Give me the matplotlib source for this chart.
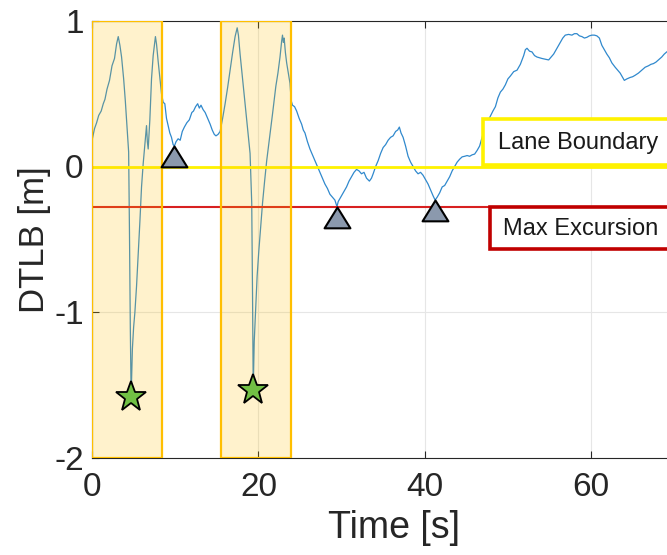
import numpy as np
import matplotlib.pyplot as plt
from matplotlib.patches import Rectangle
from matplotlib.path import Path

plt.rcParams['font.family'] = ['Liberation Sans', 'DejaVu Sans']
plt.rcParams['axes.unicode_minus'] = False

# Distance to lane boundary over time
time_s = [
    0.0, 0.3, 0.55, 0.8, 1.1, 1.35, 1.55, 1.8, 2.1, 2.4, 2.7, 2.95, 3.15, 3.35,
    3.55, 3.8, 4.0, 4.2, 4.4, 4.5, 4.6, 4.7, 4.85, 5.0, 5.15, 5.35, 5.55, 5.75,
    5.95, 6.15, 6.3, 6.45, 6.55, 6.65, 6.75, 6.95, 7.15, 7.35, 7.5, 7.62, 7.75,
    7.95, 8.15, 8.35, 8.55, 8.75, 8.95, 9.15, 9.35, 9.55, 9.75, 9.9,
    10.1, 10.35, 10.6, 10.85, 11.1, 11.4, 11.7, 12.0, 12.2, 12.45, 12.7, 12.9,
    13.1, 13.35, 13.6, 13.9, 14.2, 14.45, 14.7, 14.9, 15.15, 15.4,
    15.7, 16.0, 16.3, 16.6, 16.9, 17.2, 17.45, 17.6, 17.8, 18.1, 18.4, 18.7,
    19.0, 19.2, 19.3, 19.38, 19.5, 19.65, 19.85, 20.05, 20.3, 20.5, 20.75,
    21.0, 21.35, 21.7, 22.1, 22.35, 22.6, 22.8, 22.9, 23.0, 23.1, 23.25, 23.4,
    23.6, 23.8, 23.95, 24.1, 24.35, 24.6,
    24.9, 25.2, 25.4, 25.6, 25.9, 26.2, 26.5, 26.8, 27.1, 27.4, 27.7, 28.0,
    28.3, 28.6, 28.9, 29.2, 29.45, 29.6, 29.8, 30.0, 30.3, 30.6, 30.9, 31.2,
    31.5, 31.8, 32.1, 32.4, 32.7, 33.0, 33.35, 33.6, 33.8, 34.1, 34.4, 34.7,
    35.0, 35.3, 35.6, 35.9, 36.2, 36.5, 36.75, 36.95, 37.15, 37.4, 37.7, 38.0,
    38.3, 38.6, 38.9, 39.2, 39.5, 39.8, 40.1, 40.4, 40.7, 41.0, 41.25, 41.5,
    41.8, 42.1, 42.4, 42.7, 43.0, 43.3, 43.6, 43.9, 44.2, 44.5, 44.8, 45.1,
    45.4, 45.7, 46.0, 46.3, 46.6, 46.9, 47.2, 47.5, 47.85, 48.2, 48.5, 48.8,
    49.1, 49.4, 49.7, 50.0, 50.3, 50.7, 51.1, 51.5, 51.9, 52.1, 52.3, 52.6,
    52.9, 53.2, 53.5, 53.8, 54.1, 54.5, 54.9, 55.2, 55.5, 55.9, 56.3, 56.6,
    56.9, 57.3, 57.7, 58.0, 58.3, 58.6, 58.9, 59.2, 59.5, 59.8, 60.1, 60.4,
    60.7, 61.0, 61.3, 61.6, 61.9, 62.2, 62.5, 62.9, 63.2, 63.5, 63.8, 64.0,
    64.3, 64.7, 65.0, 65.3, 65.7, 66.1, 66.5, 66.9, 67.2, 67.5, 67.8, 68.1,
    68.5, 68.8, 69.1, 69.5,
]
dtlb_m = [
    0.18, 0.26, 0.30, 0.35, 0.38, 0.43, 0.46, 0.53, 0.59, 0.69, 0.74, 0.84, 0.89, 0.83,
    0.75, 0.60, 0.45, 0.28, 0.10, -0.45, -1.10, -1.58, -1.25, -1.10, -1.00, -0.82, -0.60, -0.38,
    -0.14, 0.02, 0.12, 0.22, 0.28, 0.17, 0.12, 0.32, 0.60, 0.76, 0.83, 0.89, 0.84,
    0.72, 0.61, 0.50, 0.44, 0.43, 0.33, 0.28, 0.23, 0.20, 0.15, 0.14,
    0.17, 0.19, 0.18, 0.24, 0.27, 0.30, 0.32, 0.37, 0.38, 0.41, 0.43, 0.40,
    0.42, 0.39, 0.37, 0.33, 0.29, 0.25, 0.22, 0.21, 0.22, 0.24,
    0.33, 0.43, 0.54, 0.66, 0.78, 0.89, 0.95, 0.90, 0.77, 0.60, 0.43, 0.26,
    0.09, -0.25, -0.90, -1.53, -1.20, -1.00, -0.75, -0.58, -0.40, -0.25, -0.10,
    0.04, 0.20, 0.36, 0.55, 0.64, 0.75, 0.86, 0.90, 0.85, 0.88, 0.78, 0.71,
    0.64, 0.57, 0.45, 0.42, 0.41, 0.38,
    0.33, 0.29, 0.25, 0.23, 0.17, 0.12, 0.08, 0.04, 0.00, -0.04, -0.08, -0.12,
    -0.15, -0.19, -0.21, -0.23, -0.275, -0.24, -0.22, -0.20, -0.17, -0.14, -0.10, -0.07,
    -0.04, -0.02, -0.03, -0.05, -0.04, -0.08, -0.10, -0.08, -0.05, 0.00, 0.04, 0.09,
    0.13, 0.15, 0.18, 0.20, 0.21, 0.24, 0.25, 0.27, 0.23, 0.20, 0.14, 0.07,
    0.03, 0.00, -0.03, -0.05, -0.04, -0.06, -0.09, -0.12, -0.16, -0.20, -0.23, -0.21,
    -0.18, -0.14, -0.13, -0.10, -0.07, -0.03, 0.00, 0.03, 0.05, 0.066, 0.07, 0.075,
    0.07, 0.08, 0.085, 0.11, 0.14, 0.20, 0.26, 0.30, 0.34, 0.38, 0.41, 0.47,
    0.51, 0.53, 0.56, 0.60, 0.62, 0.65, 0.66, 0.70, 0.76, 0.80, 0.81, 0.79,
    0.785, 0.76, 0.75, 0.745, 0.74, 0.735, 0.73, 0.75, 0.77, 0.81, 0.85, 0.88,
    0.90, 0.905, 0.90, 0.91, 0.91, 0.895, 0.89, 0.88, 0.885, 0.895, 0.90, 0.90,
    0.895, 0.88, 0.83, 0.80, 0.77, 0.745, 0.71, 0.68, 0.66, 0.64, 0.61, 0.59,
    0.60, 0.61, 0.615, 0.625, 0.64, 0.66, 0.68, 0.69, 0.70, 0.705, 0.715, 0.73,
    0.75, 0.77, 0.785, 0.80,
]

# flagged intervals (start, end) in seconds
windows = [(0.0, 8.45), (15.5, 23.9)]
# peak excursions inside the flagged intervals
star_t = [4.7, 19.38]
star_v = [-1.58, -1.53]
# local minima outside the flagged intervals
tri_t = [9.9, 29.45, 41.25]
tri_v = [0.14, -0.275, -0.23]

lane_boundary = 0.0
max_excursion = min(tri_v)

fig = plt.figure(figsize=(6.67, 5.55), dpi=100)
ax = fig.add_axes([0.138, 0.174, 0.904, 0.789])

ax.plot(time_s, dtlb_m, color='#3089cd', lw=0.9, zorder=2)

for t0, t1 in windows:
    ax.add_patch(Rectangle((t0, -2), t1 - t0, 3, facecolor=(1, 0.75, 0, 0.2),
                           edgecolor=(1, 0.75, 0, 1), lw=1.6, zorder=3))

ax.axhline(lane_boundary, color='#FFF200', lw=2, zorder=2.5)
ax.axhline(max_excursion, color='#D82020', lw=1.5, zorder=2.5)

# triangle marker with its apex on the data point
apex_up = Path([(0, 0), (-0.62, -1), (0.62, -1), (0, 0)],
               [Path.MOVETO, Path.LINETO, Path.LINETO, Path.CLOSEPOLY])
ax.plot(tri_t, tri_v, ls='none', marker=apex_up, ms=30, mfc='#8B99AD',
        mec='black', mew=1.5, zorder=4)
ax.plot(star_t, star_v, ls='none', marker='*', ms=23, mfc='#71C044',
        mec='black', mew=1.3, zorder=4)

# label boxes
ax.add_patch(Rectangle((47.06, lane_boundary + 0.012), 30, 0.31, facecolor='white',
                       edgecolor='#FFF200', lw=2.6, zorder=5))
ax.text(48.8, lane_boundary + 0.16, 'Lane Boundary', fontsize=17, va='center',
        color='#1a1a1a', zorder=6)
ax.add_patch(Rectangle((47.8, max_excursion - 0.29), 30, 0.29, facecolor='white',
                       edgecolor='#C00000', lw=2.6, zorder=5))
ax.text(49.4, max_excursion - 0.155, 'Max Excursion', fontsize=17, va='center',
        color='#1a1a1a', zorder=6)

ax.set_xlim(0, 72.5)
ax.set_ylim(-2, 1)
ax.set_xticks([0, 20, 40, 60])
ax.set_yticks([-2, -1, 0, 1])
ax.grid(True, color='#e6e6e6', lw=0.8, zorder=0)
ax.set_axisbelow(True)
ax.tick_params(direction='in', length=5, width=0.8, top=True, right=True,
               labelsize=24, colors='#262626')
ax.tick_params(axis='x', pad=10)
ax.tick_params(axis='y', pad=6)
for s in ax.spines.values():
    s.set_color('#262626')
    s.set_linewidth(0.8)
ax.set_xlabel('Time [s]', fontsize=27, color='#262626', labelpad=5)
ax.set_ylabel('DTLB [m]', fontsize=25, color='#262626', labelpad=2)

fig.savefig('out.png', dpi=100)
